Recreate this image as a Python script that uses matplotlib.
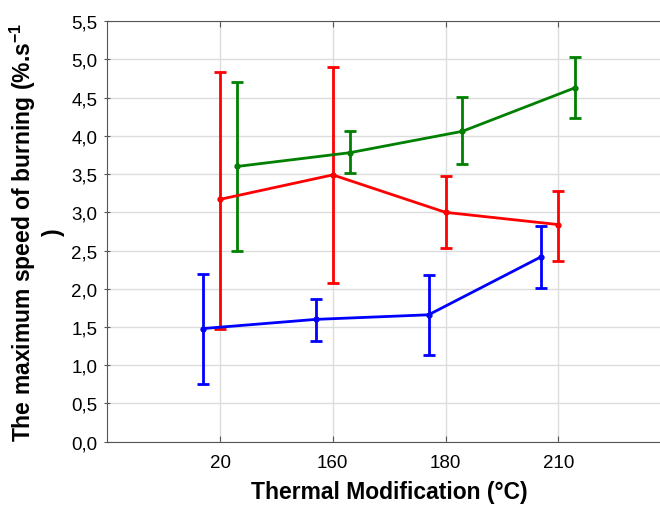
import numpy as np
import matplotlib
matplotlib.use("Agg")
import matplotlib.pyplot as plt
from matplotlib.ticker import FuncFormatter, MultipleLocator

plt.rcParams['font.family'] = ['Liberation Sans', 'DejaVu Sans']
plt.rcParams['mathtext.fontset'] = 'custom'
plt.rcParams['mathtext.rm'] = 'Liberation Sans'
plt.rcParams['mathtext.bf'] = 'Liberation Sans:bold'

# categories on the x axis
temps = ['20', '160', '180', '210']

# series values (mean, lower end, upper end of error bar)
red_mean = [3.17, 3.49, 3.00, 2.84]
red_low = [1.48, 2.08, 2.53, 2.37]
red_high = [4.84, 4.90, 3.48, 3.28]

green_mean = [3.60, 3.78, 4.06, 4.63]
green_low = [2.50, 3.52, 3.63, 4.24]
green_high = [4.70, 4.06, 4.51, 5.03]

blue_mean = [1.48, 1.60, 1.66, 2.42]
blue_low = [0.76, 1.32, 1.14, 2.01]
blue_high = [2.19, 1.87, 2.18, 2.82]

fig = plt.figure(figsize=(6.6, 5.06), dpi=100)
ax = fig.add_axes([0.1626, 0.1251, 0.854, 0.831])

x = np.arange(1, len(temps) + 1)

def draw(offset, mean, low, high, color):
    mean = np.array(mean)
    yerr = [mean - np.array(low), np.array(high) - mean]
    ax.errorbar(x + offset, mean, yerr=yerr, color=color, lw=2,
                elinewidth=2, capsize=4.5, capthick=2,
                marker='o', markersize=3.5, zorder=3)

draw(0.15, green_mean, green_low, green_high, '#008000')
draw(0.0, red_mean, red_low, red_high, '#ff0000')
draw(-0.15, blue_mean, blue_low, blue_high, '#0000ff')

ax.set_xlim(0, 5)
ax.set_ylim(0, 5.5)
ax.set_xticks(x)
ax.set_xticklabels(temps)
ax.yaxis.set_major_locator(MultipleLocator(0.5))
ax.yaxis.set_major_formatter(FuncFormatter(lambda v, p: f"{v:.1f}".replace('.', ',')))

ax.grid(True, color='#dcdcdc', lw=1)
ax.set_axisbelow(True)
for s in ['left', 'bottom', 'top', 'right']:
    ax.spines[s].set_color('#555555')
ax.tick_params(axis='x', direction='in', length=4, top=True, labelsize=13.5, pad=9, color='#555555')
ax.tick_params(axis='y', direction='inout', length=4, labelsize=13.5, pad=5, color='#555555')

ax.set_xlabel('Thermal Modification (°C)', fontsize=16.5, fontweight='bold', labelpad=6)
ax.set_ylabel('The maximum speed of burning (%.s$^{\\mathbf{-1}}$\n)',
              fontsize=16.5, fontweight='bold', labelpad=5)

fig.savefig('out.png', dpi=100)
